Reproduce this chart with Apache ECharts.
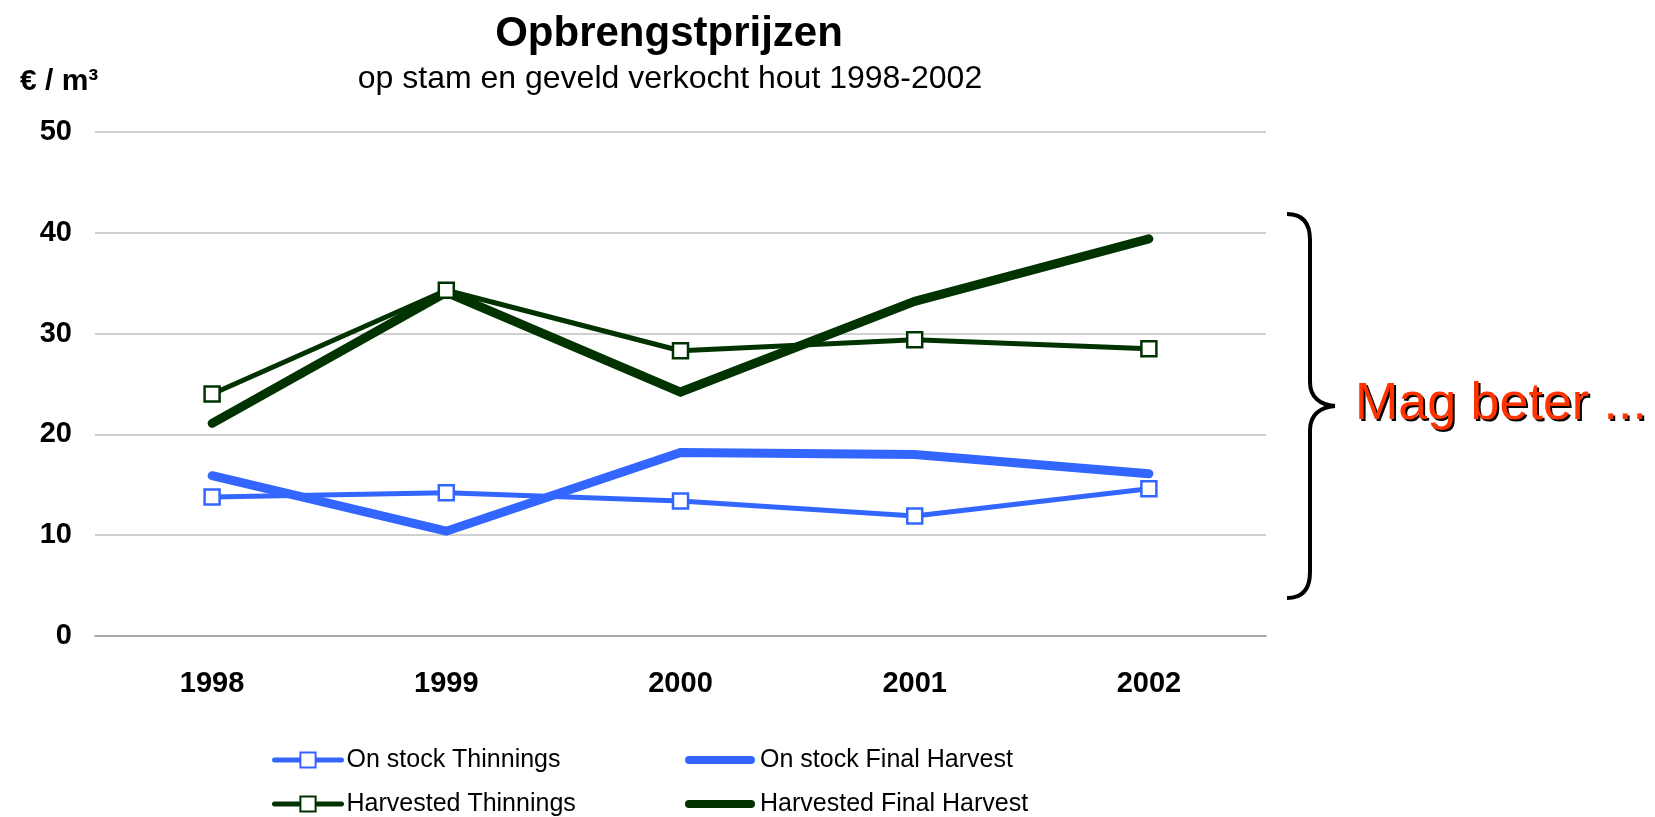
<!DOCTYPE html>
<html>
<head>
<meta charset="utf-8">
<title>Opbrengstprijzen</title>
<script src="https://cdn.jsdelivr.net/npm/echarts@6/dist/echarts.min.js"></script>
<style>
  html, body { margin: 0; padding: 0; background: #fff; }
  #chart { width: 1655px; height: 817px; }
</style>
</head>
<body>
<div id="chart"></div>
<script>
// data (euro per m3)
const years = ['1998', '1999', '2000', '2001', '2002']
const onStockThinnings = [13.8, 14.2, 13.4, 11.9, 14.6]
const onStockFinal = [15.9, 10.4, 18.2, 18.0, 16.1]
const harvestedThinnings = [24.0, 34.3, 28.3, 29.4, 28.5]
const harvestedFinal = [21.1, 34.1, 24.2, 33.2, 39.4]
const yTicks = { min: 0, max: 50, step: 10 }

const blue = '#3366ff'
const green = '#003300'
const font = '"Liberation Sans", Arial, sans-serif'

const chart = echarts.init(document.getElementById('chart'))

function thinLine(name, data, color) {
  return {
    name: name,
    type: 'line',
    data: data,
    symbol: 'rect',
    symbolSize: 15,
    showAllSymbol: true,
    lineStyle: { color: color, width: 5 },
    itemStyle: { color: '#fff', borderColor: color, borderWidth: 2.5 },
    z: 3
  }
}

function thickLine(name, data, color) {
  return {
    name: name,
    type: 'line',
    data: data,
    symbol: 'none',
    lineStyle: { color: color, width: 9, cap: 'round', join: 'miter' },
    itemStyle: { color: color },
    z: 2
  }
}

// the curly brace next to the plot, built from curve + line pieces
const braceStyle = { stroke: '#000', lineWidth: 4, fill: null }
function curve(x1, y1, cx1, cy1, cx2, cy2, x2, y2) {
  return {
    type: 'bezierCurve',
    shape: { x1: x1, y1: y1, cpx1: cx1, cpy1: cy1, cpx2: cx2, cpy2: cy2, x2: x2, y2: y2 },
    style: braceStyle
  }
}
function straight(x1, y1, x2, y2) {
  return { type: 'line', shape: { x1: x1, y1: y1, x2: x2, y2: y2 }, style: braceStyle }
}
const brace = [
  curve(1287, 214, 1302, 214, 1310, 222, 1310, 240),
  straight(1310, 240, 1310, 382),
  curve(1310, 382, 1310, 397, 1320, 405, 1335, 406),
  curve(1335, 406, 1320, 407, 1310, 415, 1310, 430),
  straight(1310, 430, 1310, 572),
  curve(1310, 572, 1310, 590, 1302, 598, 1287, 598)
]

// "Mag beter ..." with a hard black drop shadow
function note(dx, dy, color, z) {
  return {
    type: 'text',
    left: 1355 + dx, top: 379 + dy, z: z,
    style: { text: 'Mag beter ...', fill: color, font: '52px ' + font }
  }
}

// one legend per entry, laid out as a 2x2 block
const legendText = { fontFamily: font, fontSize: 25, color: '#000', lineHeight: 30 }
function thinLegend(name, left, top) {
  return {
    left: left, top: top, padding: 0,
    itemWidth: 67, itemHeight: 19,
    selectedMode: false,
    lineStyle: { width: 5, cap: 'round' },
    textStyle: legendText,
    data: [name]
  }
}
function thickLegend(name, left, top) {
  return {
    left: left, top: top, padding: 0,
    itemWidth: 70, itemHeight: 8,
    selectedMode: false,
    icon: 'path://M4,0H66A4,4,0,0,1,66,8H4A4,4,0,0,1,4,0Z',
    textStyle: legendText,
    data: [name]
  }
}

const option = {
  animation: false,
  backgroundColor: '#fff',
  title: [
    {
      text: 'Opbrengstprijzen',
      left: 664, top: 8, textAlign: 'center',
      textStyle: { fontFamily: font, fontSize: 42, fontWeight: 'bold', color: '#000' }
    },
    {
      text: 'op stam en geveld verkocht hout 1998-2002',
      left: 665, top: 58, textAlign: 'center',
      textStyle: { fontFamily: font, fontSize: 32, fontWeight: 'normal', color: '#000' }
    },
    {
      text: '€ / m³',
      left: 15, top: 62,
      textStyle: { fontFamily: font, fontSize: 30, fontWeight: 'bold', color: '#000' }
    }
  ],
  grid: { left: 95, right: 389, top: 132, bottom: 181, containLabel: false },
  legend: [
    thinLegend('On stock Thinnings', 272, 745),
    thinLegend('Harvested Thinnings', 272, 789),
    thickLegend('On stock Final Harvest', 685, 745),
    thickLegend('Harvested Final Harvest', 685, 789)
  ],
  xAxis: {
    type: 'category',
    data: years,
    boundaryGap: true,
    axisLine: { show: true, lineStyle: { color: '#999', width: 1.5 } },
    axisTick: { show: false },
    axisLabel: { fontFamily: font, fontSize: 29, fontWeight: 'bold', color: '#000', margin: 33 }
  },
  yAxis: {
    type: 'value',
    min: yTicks.min, max: yTicks.max, interval: yTicks.step,
    axisLine: { show: false },
    axisTick: { show: false },
    splitLine: { lineStyle: { color: '#c0c0c0', width: 1.5 } },
    axisLabel: { fontFamily: font, fontSize: 29, fontWeight: 'bold', color: '#000', margin: 23 }
  },
  graphic: brace.concat([note(2, 2, '#000', 1), note(0, 0, '#ff3300', 2)]),
  series: [
    thinLine('On stock Thinnings', onStockThinnings, blue),
    thickLine('On stock Final Harvest', onStockFinal, blue),
    thinLine('Harvested Thinnings', harvestedThinnings, green),
    thickLine('Harvested Final Harvest', harvestedFinal, green)
  ]
}

chart.setOption(option)
window.addEventListener('resize', () => {
  chart.resize()
})
</script>
</body>
</html>
